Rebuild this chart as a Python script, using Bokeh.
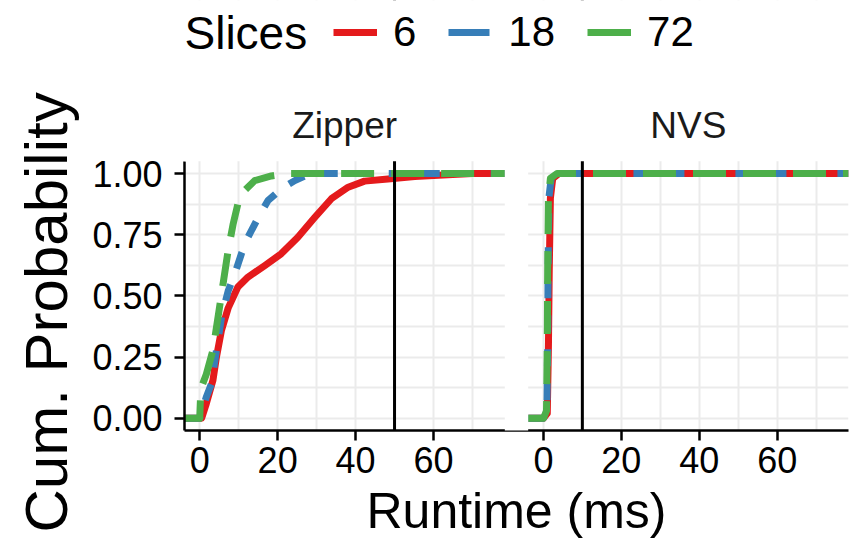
from bokeh.plotting import figure
from bokeh.models import (Range1d, FixedTicker, Span, Legend, LegendItem, Label,
                          Grid, BoxAnnotation, Title)
from bokeh.embed import file_html
from bokeh.resources import INLINE

FONT = "Liberation Sans"

# ---- data ----
slices = ["6", "18", "72"]
colors = ["#E41A1C", "#377EB8", "#4DAF4A"]
dashes = ["solid", "17 17", "33 17"]
legend_dashes = ["solid", "41 10", "44 10"]
panels = ["Zipper", "NVS"]
thresholds = [50, 10]

x_ticks = [0, 20, 40, 60]
x_tick_labels = ["0", "20", "40", "60"]
x_minor = [10, 30, 50, 70]
y_ticks = [0.0, 0.25, 0.5, 0.75, 1.0]
y_minor = [0.125, 0.375, 0.625, 0.875]
y_tick_labels = ["0.00", "0.25", "0.50", "0.75", "1.00"]

# Zipper ECDFs: runtime (ms) -> cumulative probability
zipper_6_x = [0.0, 0.5, 1.7, 3.4, 4.3, 5.6, 7.3, 9.8, 12.4, 16.7, 20.9, 25.2, 29.5, 33.8, 38.1, 42.3, 48.3, 55.2, 63.7, 70.0]
zipper_6_y = [0.0, 0.0, 0.06, 0.155, 0.25, 0.36, 0.45, 0.536, 0.577, 0.624, 0.672, 0.74, 0.82, 0.897, 0.944, 0.969, 0.978, 0.988, 0.995, 1.0]
zipper_18_x = [0.0, 0.4, 1.7, 3.0, 4.3, 5.6, 7.3, 9.0, 10.7, 12.4, 15.0, 17.5, 20.9, 24.4, 27.8, 31.2]
zipper_18_y = [0.0, 0.02, 0.087, 0.14, 0.278, 0.413, 0.52, 0.59, 0.672, 0.74, 0.82, 0.889, 0.937, 0.971, 0.996, 1.0]
zipper_72_x = [0.0, 0.3, 1.7, 3.4, 4.7, 6.0, 7.3, 8.6, 9.8, 11.5, 14.1, 18.4, 22.6]
zipper_72_y = [0.0, 0.12, 0.18, 0.278, 0.413, 0.55, 0.686, 0.795, 0.876, 0.93, 0.971, 0.99, 1.0]

# NVS ECDFs
nvs_6_x = [0.0, 1.0, 1.3, 1.5, 1.8, 2.4, 4.0]
nvs_6_y = [0.0, 0.02, 0.3, 0.6, 0.9, 0.98, 1.0]
nvs_18_x = [0.0, 0.9, 1.1, 1.2, 1.4, 2.0, 3.5]
nvs_18_y = [0.0, 0.03, 0.3, 0.6, 0.9, 0.98, 1.0]
nvs_72_x = [0.0, 0.8, 1.0, 1.1, 1.3, 1.8, 3.5]
nvs_72_y = [0.0, 0.03, 0.3, 0.6, 0.9, 0.98, 1.0]

series = {
    "Zipper": [(zipper_6_x, zipper_6_y), (zipper_18_x, zipper_18_y), (zipper_72_x, zipper_72_y)],
    "NVS": [(nvs_6_x, nvs_6_y), (nvs_18_x, nvs_18_y), (nvs_72_x, nvs_72_y)],
}

# shared facet scale: each panel shows x in [XLO, XHI]; panels separated by a gap
XLO, XHI = -3.9, 78.3
GAP = 6.0
SHIFT = (XHI - XLO) + GAP          # NVS panel offset in the base range
YLO, YHI = -0.05, 1.05
YTOP = 1.707                      # room above the panels for strips and legend
GRID = "#EBEBEB"
LW = 7

p = figure(width=852, height=553,
           x_range=Range1d(XLO, XHI + SHIFT), y_range=Range1d(YLO, YTOP),
           output_backend="svg", toolbar_location=None,
           min_border_left=184, min_border_right=4,
           min_border_top=0, min_border_bottom=123)
p.extra_x_ranges = {"nvs": Range1d(XLO - SHIFT, XHI)}
p.background_fill_color = "white"
p.border_fill_color = "white"
p.outline_line_color = None

# ---- grids ----
xt_zip = FixedTicker(ticks=x_ticks, minor_ticks=x_minor)
xt_nvs = FixedTicker(ticks=x_ticks, minor_ticks=x_minor)
yt = FixedTicker(ticks=y_ticks, minor_ticks=y_minor)
p.xgrid.ticker = xt_zip
p.ygrid.ticker = yt
p.add_layout(Grid(dimension=0, ticker=xt_nvs, x_range_name="nvs"))
for g in p.grid:
    g.grid_line_color = GRID
    g.grid_line_width = 2
    g.minor_grid_line_color = GRID
    g.minor_grid_line_width = 2

# ---- axes ----
bottom_ticks = list(x_ticks) + [t + SHIFT for t in x_ticks]
p.xaxis.ticker = FixedTicker(ticks=bottom_ticks)
p.xaxis.major_label_overrides = {t: l for t, l in zip(bottom_ticks, x_tick_labels * 2)}
p.yaxis.ticker = FixedTicker(ticks=y_ticks)
p.yaxis.major_label_overrides = {t: l for t, l in zip(y_ticks, y_tick_labels)}
p.yaxis.bounds = (YLO, YHI)
for ax in (p.xaxis, p.yaxis):
    ax.axis_line_color = "black"
    ax.axis_line_width = 2.5
    ax.major_tick_line_color = "black"
    ax.major_tick_line_width = 2.5
    ax.major_tick_out = 10
    ax.major_tick_in = 0
    ax.minor_tick_out = 0
    ax.minor_tick_in = 0
    ax.major_label_text_font = FONT
    ax.major_label_text_font_size = "36px"
    ax.major_label_text_color = "black"
    ax.axis_label_text_font = FONT
    ax.axis_label_text_font_style = "normal"
    ax.axis_label_text_color = "black"
p.xaxis.major_label_standoff = 6
p.yaxis.major_label_standoff = 12
p.xaxis.axis_label = "Runtime (ms)"
p.xaxis.axis_label_text_font_size = "50px"
p.xaxis.axis_label_standoff = 7

# y-axis title: a left-side title, aligned with the panel area like the reference
p.add_layout(Title(text="Cum. Probability", align="left", offset=-102, standoff=20,
                   text_font=FONT, text_font_size="60px", text_font_style="normal",
                   text_color="black"), "left")

# ---- ECDF lines ----
for name, rng in zip(panels, ["default", "nvs"]):
    for (xs, ys), c, d in zip(series[name], colors, dashes):
        px = [XLO] + list(xs) + [XHI]          # padded to the panel edges (-Inf / Inf)
        py = [ys[0]] + list(ys) + [ys[-1]]
        p.line(x=px, y=py, line_color=c, line_width=LW, line_dash=d,
               line_join="round", x_range_name=rng)

# threshold lines
p.add_layout(Span(location=thresholds[0], dimension="height", line_color="black", line_width=3))
p.add_layout(Span(location=thresholds[1], dimension="height", line_color="black", line_width=3,
                  x_range_name="nvs"))

# white gap between the two facet panels, and white strip area above them
p.add_layout(BoxAnnotation(left=XHI, right=XHI + GAP, bottom=YLO - 0.04, top=YHI,
                           fill_color="white", fill_alpha=1.0, line_color=None))
p.add_layout(BoxAnnotation(bottom=YHI, fill_color="white", fill_alpha=1.0, line_color=None))

# facet strip labels
mid = (XLO + XHI) / 2
for name, rng in zip(panels, ["default", "nvs"]):
    p.add_layout(Label(x=mid, y=YHI + 0.146, text=name, x_range_name=rng,
                       text_font=FONT, text_font_size="37px", text_color="#1A1A1A",
                       text_align="center", text_baseline="middle"))

# legend (keys drawn as in the reference legend)
nan = float("nan")
keys = [p.line(x=[nan], y=[nan], line_color=c, line_width=LW, line_dash=d)
        for c, d in zip(colors, legend_dashes)]
legend = Legend(items=[LegendItem(label=s, renderers=[r]) for s, r in zip(slices, keys)],
                orientation="horizontal", location=(149, 374), padding=0, margin=0,
                spacing=32, glyph_width=44, glyph_height=48, label_height=48,
                label_standoff=16, label_text_font=FONT, label_text_font_size="42px",
                label_text_color="black", border_line_color=None, background_fill_alpha=0)
p.add_layout(legend)
p.add_layout(Label(x=0, y=398, x_units="screen", y_units="screen", text="Slices",
                   text_font=FONT, text_font_size="46px", text_color="black",
                   text_align="left", text_baseline="middle"))

open("out.html", "w").write(file_html(p, INLINE))
